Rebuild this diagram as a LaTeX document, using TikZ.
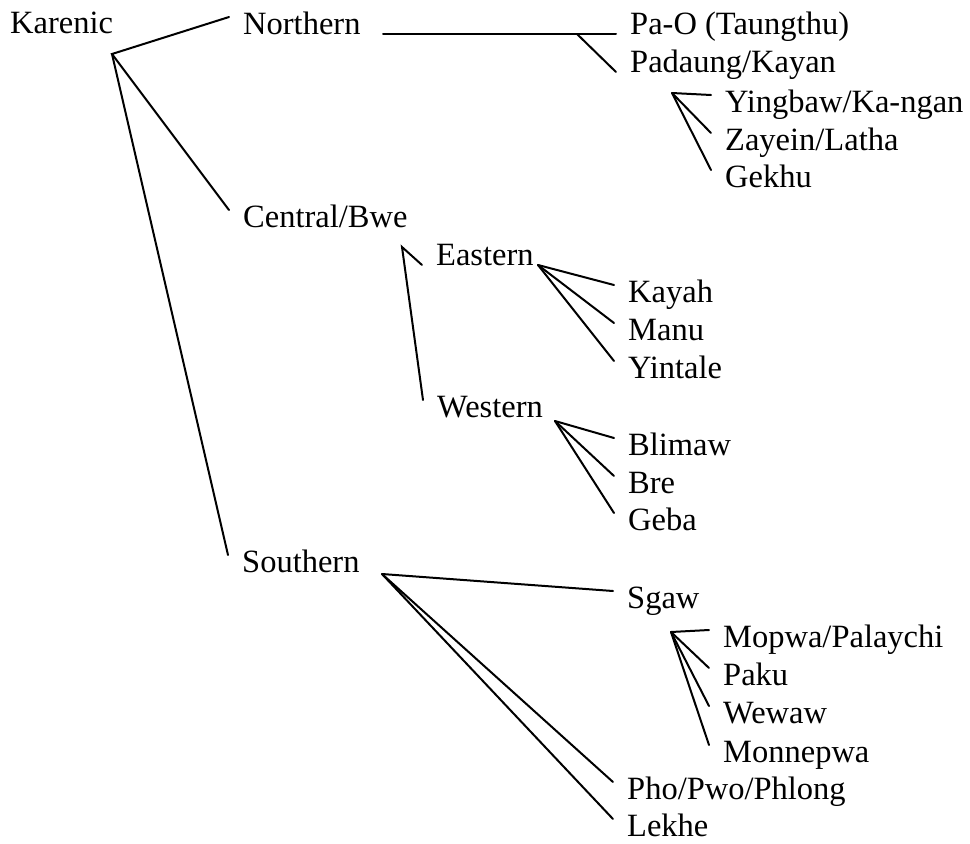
\documentclass[tikz,border=0pt]{standalone}
\usepackage{fontspec}
\setmainfont{Liberation Serif}
\tikzset{
	lang/.style={anchor=base west, inner xsep=14pt, inner ysep=0pt,
		text height=40pt, text depth=6pt, font=\fontsize{32.5}{38}\selectfont},
	branch/.style={black, line width=2pt, line cap=round},
}

\begin{document}
\begin{tikzpicture}[x=1pt, y=-1pt]
	\useasboundingbox (0, 0) rectangle (970, 844);

	% top level
	\node[lang] (kar) at (-4, 33)  {Karenic};
	\node[lang] (nor) at (229, 34) {Northern};
	\node[lang] (cen) at (229, 227) {Central/Bwe};
	\node[lang] (sou) at (228, 572) {Southern};

	% northern group
	\node[lang] (pao) at (616, 34)  {Pa-O (Taungthu)};
	\node[lang] (pad) at (616, 72)  {Padaung/Kayan};
	\node[lang] (yin) at (711, 112) {Yingbaw/Ka-ngan};
	\node[lang] (zay) at (711, 150) {Zayein/Latha};
	\node[lang] (gek) at (711, 187) {Gekhu};

	% central group
	\node[lang] (eas) at (422, 265) {Eastern};
	\node[lang] (wes) at (423, 417) {Western};
	\node[lang] (kay) at (614, 302) {Kayah};
	\node[lang] (man) at (614, 340) {Manu};
	\node[lang] (yit) at (614, 378) {Yintale};
	\node[lang] (bli) at (614, 455) {Blimaw};
	\node[lang] (bre) at (614, 493) {Bre};
	\node[lang] (geb) at (614, 530) {Geba};

	% southern group
	\node[lang] (sga) at (613, 608) {Sgaw};
	\node[lang] (mop) at (709, 647) {Mopwa/Palaychi};
	\node[lang] (pak) at (709, 685) {Paku};
	\node[lang] (wew) at (709, 723) {Wewaw};
	\node[lang] (mon) at (709, 762) {Monnepwa};
	\node[lang] (pho) at (613, 799) {Pho/Pwo/Phlong};
	\node[lang] (lek) at (613, 836) {Lekhe};

	% branching points
	\coordinate (jKar)  at (112, 54);
	\coordinate (jNor)  at (383, 34);
	\coordinate (jNorB) at (577, 34);
	\coordinate (jPad)  at (672, 93);
	\coordinate (jCen)  at (402, 247);
	\coordinate (jEas)  at (538, 265);
	\coordinate (jWes)  at (555, 421);
	\coordinate (jSou)  at (382, 574);
	\coordinate (jSga)  at (671, 632);

	\draw[branch] (nor.west) -- (jKar) -- (cen.west);
	\draw[branch] (jKar) -- (sou.west);

	\draw[branch] (jNor) -- (pao.base west);
	\draw[branch] (jNorB) -- (pad.base west);
	\foreach \n in {yin, zay, gek}
		\draw[branch] (jPad) -- (\n.west);

	\draw[branch] (eas.base west) -- (jCen) -- (wes.west);
	\foreach \n in {kay, man, yit}
		\draw[branch] (jEas) -- (\n.west);
	\foreach \n in {bli, bre, geb}
		\draw[branch] (jWes) -- (\n.west);

	\foreach \n in {sga, pho, lek}
		\draw[branch] (jSou) -- (\n.west);
	\foreach \n in {mop, pak, wew, mon}
		\draw[branch] (jSga) -- (\n.west);
\end{tikzpicture}
\end{document}
